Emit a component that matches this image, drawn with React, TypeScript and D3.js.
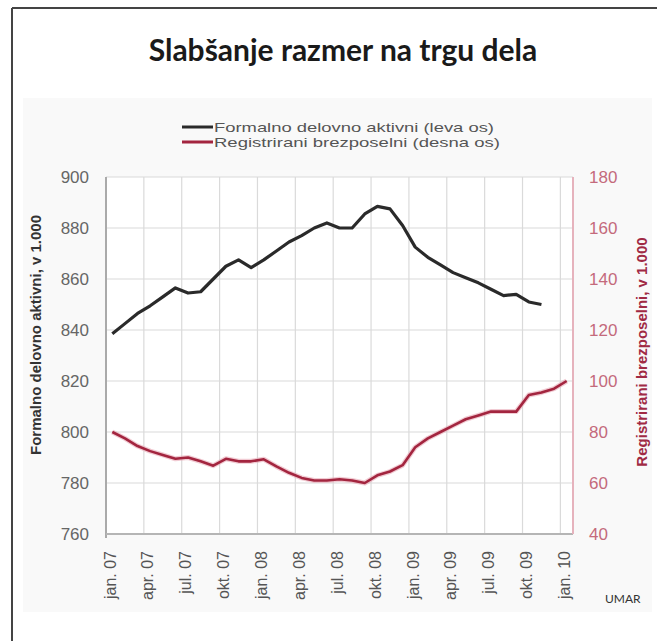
import React from "react";
import { scaleBand, scaleLinear, line } from "d3";

const categories = [
  "jan. 07", "feb. 07", "mar. 07", "apr. 07", "maj 07", "jun. 07",
  "jul. 07", "avg. 07", "sep. 07", "okt. 07", "nov. 07", "dec. 07",
  "jan. 08", "feb. 08", "mar. 08", "apr. 08", "maj 08", "jun. 08",
  "jul. 08", "avg. 08", "sep. 08", "okt. 08", "nov. 08", "dec. 08",
  "jan. 09", "feb. 09", "mar. 09", "apr. 09", "maj 09", "jun. 09",
  "jul. 09", "avg. 09", "sep. 09", "okt. 09", "nov. 09", "dec. 09",
  "jan. 10",
];

// formalno delovno aktivni, v 1.000 (leva os), jan. 07 - nov. 09
const aktivni = [
  838.5, 842.5, 846.5, 849.5, 853, 856.5, 854.5, 855, 860, 865, 867.5, 864.5,
  867.5, 871, 874.5, 877, 880, 882, 880, 880, 885.5, 888.5, 887.5, 881,
  872.5, 868.5, 865.5, 862.5, 860.5, 858.5, 856, 853.5, 854, 851, 850,
];

// registrirani brezposelni, v 1.000 (desna os), jan. 07 - jan. 10
const brezposelni = [
  80, 77.5, 74.5, 72.5, 71, 69.5, 70, 68.5, 66.8, 69.5, 68.5, 68.5,
  69.3, 66.5, 64, 62, 61, 61, 61.5, 61, 60, 63, 64.5, 67,
  74, 77.5, 80, 82.5, 85, 86.5, 88, 88, 88, 94.5, 95.5, 97,
  100,
];

const leftTicks = [760, 780, 800, 820, 840, 860, 880, 900];
const rightTicks = [40, 60, 80, 100, 120, 140, 160, 180];
const xTickLabels = categories.filter((_, i) => i % 3 === 0);

const legendItems = [
  { label: "Formalno delovno aktivni (leva os)", color: "#2a2a2a", len: 280 },
  { label: "Registrirani brezposelni (desna os)", color: "#a3253f", len: 286 },
];

const W = 657;
const H = 641;
const plot = { left: 106, right: 573, top: 177, bottom: 534 };
const sans = "'Liberation Sans', Arial, sans-serif";

export default function App() {
  const x = scaleBand<string>().domain(categories).range([plot.left, plot.right]).paddingInner(0).paddingOuter(0);
  const bw = x.bandwidth();
  const yL = scaleLinear().domain([760, 900]).range([plot.bottom, plot.top]);
  const yR = scaleLinear().domain([40, 180]).range([plot.bottom, plot.top]);

  const lineL = line<number>()
    .x((_, i) => (x(categories[i]) as number) + bw / 2)
    .y((d) => yL(d));
  const lineR = line<number>()
    .x((_, i) => (x(categories[i]) as number) + bw / 2)
    .y((d) => yR(d));

  return (
    <svg width={W} height={H} style={{ position: "absolute", left: 0, top: 0, background: "#fff" }}>
      {/* frame */}
      <line x1={12} y1={8} x2={W} y2={8} stroke="#444" strokeWidth={2} />
      <line x1={12} y1={8} x2={12} y2={H} stroke="#444" strokeWidth={2} />
      <rect x={23} y={98} width={W - 28} height={514} fill="#f9f9f9" />

      <text x={343} y={61} textAnchor="middle" fontFamily="Lato, 'Open Sans', sans-serif" fontWeight={700} fontSize={30} fill="#1a1a1a">
        Slabšanje razmer na trgu dela
      </text>

      {/* legend */}
      {legendItems.map((d, i) => (
        <g key={d.label} transform={`translate(182,${127 + i * 15})`}>
          <line x1={0} x2={31} y1={0} y2={0} stroke={d.color} strokeWidth={3} />
          <text
            x={32}
            y={0}
            dy="0.35em"
            fontFamily={sans}
            fontSize={13.5}
            fill="#555"
            textLength={d.len}
            lengthAdjust="spacingAndGlyphs"
          >
            {d.label}
          </text>
        </g>
      ))}

      {/* plot */}
      <rect x={plot.left} y={plot.top} width={plot.right - plot.left} height={plot.bottom - plot.top} fill="#fff" />
      {leftTicks.map((t) => (
        <line key={"h" + t} x1={plot.left} x2={plot.right} y1={yL(t)} y2={yL(t)} stroke="#dadada" strokeWidth={1.2} />
      ))}
      {xTickLabels.map((c) => (
        <line key={"v" + c} x1={x(c)} x2={x(c)} y1={plot.top} y2={plot.bottom} stroke="#dadada" strokeWidth={1.2} />
      ))}
      <line x1={plot.left} x2={plot.left} y1={plot.top} y2={plot.bottom + 4} stroke="#aaa" strokeWidth={2} />
      <line x1={plot.left} x2={plot.right} y1={plot.bottom} y2={plot.bottom} stroke="#b5b5b5" strokeWidth={2} />
      <line x1={plot.right} x2={plot.right} y1={plot.top} y2={plot.bottom} stroke="#e6b3bd" strokeWidth={2} />

      {/* series */}
      <path d={lineR(brezposelni) || ""} fill="none" stroke="#e7a9b6" strokeWidth={5} strokeOpacity={0.6} strokeLinejoin="round" />
      <path d={lineR(brezposelni) || ""} fill="none" stroke="#a3253f" strokeWidth={2.6} strokeLinejoin="round" />
      <path d={lineL(aktivni) || ""} fill="none" stroke="#2a2a2a" strokeWidth={3.2} strokeLinejoin="round" />

      {/* left axis */}
      {leftTicks.map((t) => (
        <text key={"l" + t} x={89} y={yL(t)} dy="0.35em" textAnchor="end" fontFamily={sans} fontSize={17} fill="#666">
          {t}
        </text>
      ))}
      {/* right axis */}
      {rightTicks.map((t) => (
        <text key={"r" + t} x={589} y={yR(t)} dy="0.35em" fontFamily={sans} fontSize={17} fill="#c46a7c">
          {t}
        </text>
      ))}
      {/* x labels */}
      {xTickLabels.map((c) => (
        <text
          key={"x" + c}
          transform={`translate(${(x(c) as number) + 4},551) rotate(-90)`}
          dy="0.35em"
          textAnchor="end"
          fontFamily={sans}
          fontSize={16}
          fill="#555"
        >
          {c}
        </text>
      ))}

      <text transform="translate(36,335) rotate(-90)" dy="0.35em" textAnchor="middle" fontFamily={sans} fontWeight={700} fontSize={15} fill="#333">
        Formalno delovno aktivni, v 1.000
      </text>
      <text transform="translate(642,352) rotate(-90)" dy="0.35em" textAnchor="middle" fontFamily={sans} fontWeight={700} fontSize={15} fill="#a02a44">
        Registrirani brezposelni, v 1.000
      </text>

      <text x={605} y={603} fontFamily="Lato, 'Open Sans', sans-serif" fontSize={12} fill="#333">
        UMAR
      </text>
    </svg>
  );
}
